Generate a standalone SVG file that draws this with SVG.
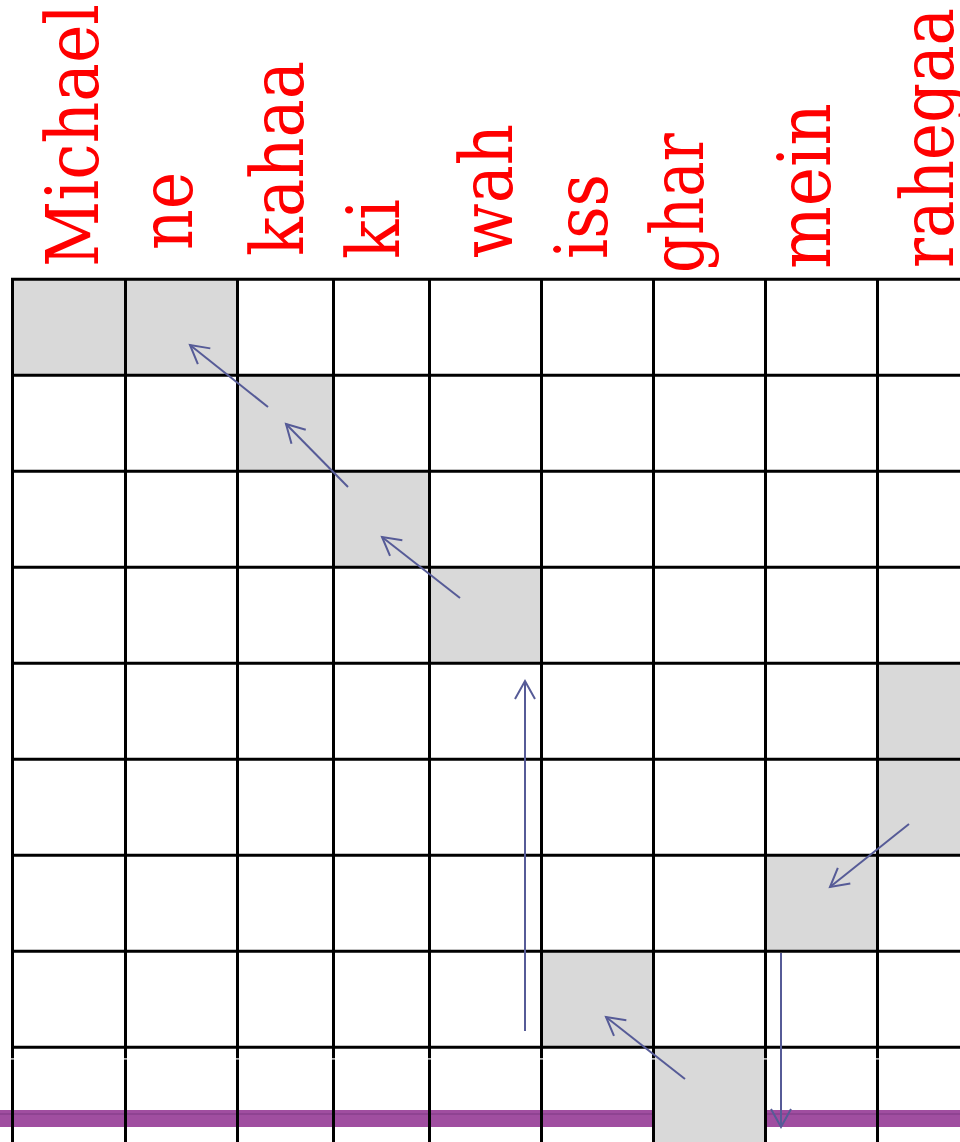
<svg xmlns="http://www.w3.org/2000/svg" width="960" height="1142" viewBox="0 0 960 1142">
<style>
.lbl{font-family:"DejaVu Serif","Liberation Serif",serif;font-size:72px;fill:#ff0000}
.cell{fill:#d9d9d9}
.grid{stroke:#000;stroke-width:3;fill:none}
.tick{fill:#fff}
.conn{stroke:#565b97;stroke-width:2;fill:none}
</style>
<defs>
<marker id="ah" markerUnits="userSpaceOnUse" markerWidth="30" markerHeight="30" viewBox="0 0 30 30" refX="22" refY="15" orient="auto" overflow="visible">
<path d="M4,5 L22,15 L4,25" fill="none" stroke="#565b97" stroke-width="2"/>
</marker>
</defs>
<rect width="960" height="1142" fill="#fff"/>
<g id="band">
<rect x="0" y="1110" width="960" height="17" fill="#a04ea0"/>
<rect x="0" y="1113" width="960" height="2" fill="#8f4392"/>
</g>
<g id="cells">
<rect class="cell" x="12.5" y="279.3" width="113" height="96"/>
<rect class="cell" x="125.5" y="279.3" width="112" height="96"/>
<rect class="cell" x="237.5" y="375.3" width="96" height="96"/>
<rect class="cell" x="333.5" y="471.3" width="96" height="96"/>
<rect class="cell" x="429.5" y="567.3" width="112" height="96"/>
<rect class="cell" x="877.5" y="663.3" width="90" height="96"/>
<rect class="cell" x="877.5" y="759.3" width="90" height="96"/>
<rect class="cell" x="765.5" y="855.3" width="112" height="96"/>
<rect class="cell" x="541.5" y="951.3" width="112" height="96"/>
<rect class="cell" x="653.5" y="1047.3" width="112" height="96"/>
</g>
<g id="grid" class="grid">
<path d="M11,279.3H960M11,375.3H960M11,471.3H960M11,567.3H960M11,663.3H960M11,759.3H960M11,855.3H960M11,951.3H960M11,1047.3H960"/>
<path d="M12.5,278V1142M125.5,278V1142M237.5,278V1142M333.5,278V1142M429.5,278V1142M541.5,278V1142M653.5,278V1142M765.5,278V1142M877.5,278V1142"/>
</g>
<g id="ticks" class="tick">
<rect x="10.5" y="1058.3" width="4" height="1.2"/>
<rect x="123.5" y="1058.3" width="4" height="1.2"/>
<rect x="235.5" y="1058.3" width="4" height="1.2"/>
<rect x="331.5" y="1058.3" width="4" height="1.2"/>
<rect x="427.5" y="1058.3" width="4" height="1.2"/>
<rect x="539.5" y="1058.3" width="4" height="1.2"/>
<rect x="651.5" y="1058.3" width="4" height="1.2"/>
<rect x="763.5" y="1058.3" width="4" height="1.2"/>
<rect x="875.5" y="1058.3" width="4" height="1.2"/>
</g>
<g id="connectors" class="conn">
<path d="M268,407 L190,345" marker-end="url(#ah)"/>
<path d="M348,487 L286,424" marker-end="url(#ah)"/>
<path d="M460,598 L382,537" marker-end="url(#ah)"/>
<path d="M525,1031 L525,681" marker-end="url(#ah)"/>
<path d="M909,824 L830,887" marker-end="url(#ah)"/>
<path d="M685,1079 L606,1017" marker-end="url(#ah)"/>
<path d="M781,953 L781,1127" marker-end="url(#ah)"/>
</g>
<g id="label-michael"><text class="lbl" transform="translate(98,267) rotate(-90)" textLength="263" lengthAdjust="spacingAndGlyphs">Michael</text></g>
<g id="label-ne"><text class="lbl" transform="translate(192,250) rotate(-90)" textLength="78" lengthAdjust="spacingAndGlyphs">ne</text></g>
<g id="label-kahaa"><text class="lbl" transform="translate(303,256) rotate(-90)" textLength="195" lengthAdjust="spacingAndGlyphs">kahaa</text></g>
<g id="label-ki"><text class="lbl" transform="translate(399,259) rotate(-90)" textLength="60" lengthAdjust="spacingAndGlyphs">ki</text></g>
<g id="label-wah"><text class="lbl" transform="translate(512,258) rotate(-90)" textLength="134" lengthAdjust="spacingAndGlyphs">wah</text></g>
<g id="label-iss"><text class="lbl" transform="translate(607,259) rotate(-90)" textLength="85" lengthAdjust="spacingAndGlyphs">iss</text></g>
<g id="label-ghar"><text class="lbl" transform="translate(703,273) rotate(-90)" textLength="140" lengthAdjust="spacingAndGlyphs">ghar</text></g>
<g id="label-mein"><text class="lbl" transform="translate(830,269) rotate(-90)" textLength="166" lengthAdjust="spacingAndGlyphs">mein</text></g>
<g id="label-rahegaa"><text class="lbl" transform="translate(953,268) rotate(-90)" textLength="260" lengthAdjust="spacingAndGlyphs">rahegaa</text></g>
</svg>
